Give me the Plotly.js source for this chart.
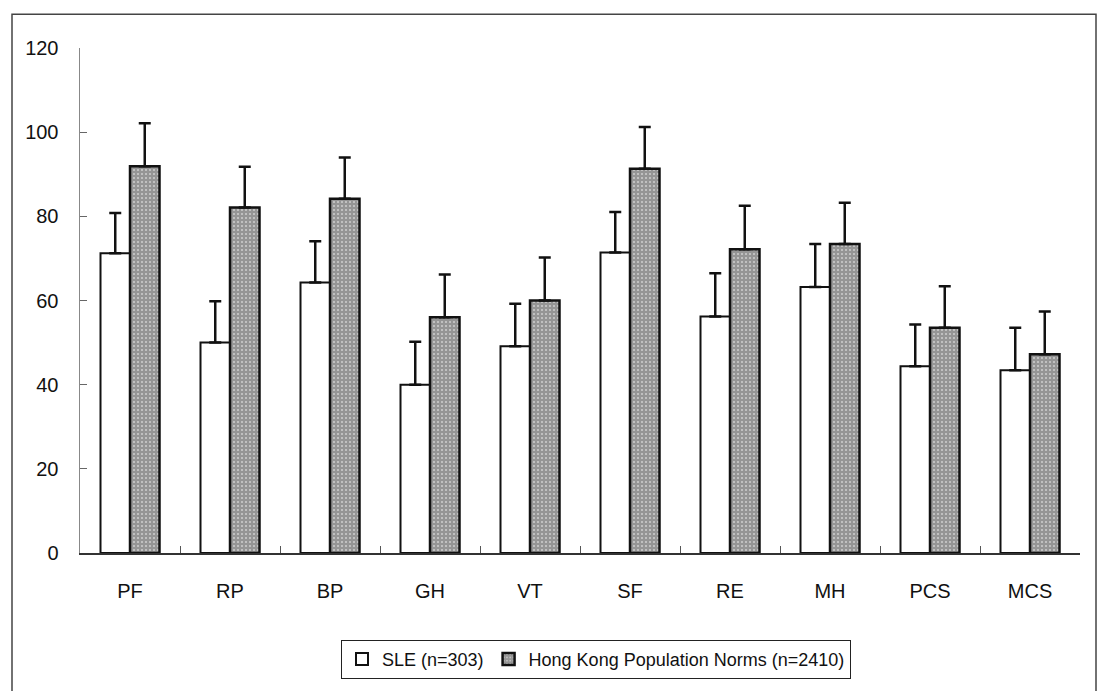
<!DOCTYPE html>
<html>
<head>
<meta charset="utf-8">
<script src="https://cdn.plot.ly/plotly-3.0.1.min.js"></script>
<style>html,body{margin:0;padding:0;background:#fff;}#chart{width:1098px;height:691px;}</style>
</head>
<body>
<div id="chart"></div>
<script>
var categories = ["PF", "RP", "BP", "GH", "VT", "SF", "RE", "MH", "PCS", "MCS"];
var sleValues = [71.2, 50.0, 64.3, 40.0, 49.1, 71.4, 56.2, 63.2, 44.4, 43.4];
var sleErrors = [9.6, 9.8, 9.8, 10.2, 10.1, 9.6, 10.3, 10.2, 9.9, 10.1];
var hkValues = [91.9, 82.1, 84.2, 56.0, 60.0, 91.3, 72.2, 73.4, 53.5, 47.2];
var hkErrors = [10.2, 9.7, 9.8, 10.2, 10.2, 9.9, 10.3, 9.8, 9.9, 10.2];
var sleName = "SLE (n=303)";
var hkName = "Hong Kong Population Norms (n=2410)";

var fontFam = "'Liberation Sans Narrow', 'Liberation Sans', Arial, sans-serif";

var traces = [
  {
    type: "bar", name: sleName, x: categories, y: sleValues,
    marker: {color: "#ffffff", line: {color: "#111111", width: 2}},
    error_y: {type: "data", symmetric: false, array: sleErrors, arrayminus: sleErrors.map(function(){return 0;}),
              color: "#111111", thickness: 2.5, width: 6}
  },
  {
    type: "bar", name: hkName, x: categories, y: hkValues,
    marker: {color: "#989898", line: {color: "#111111", width: 2.5},
             pattern: {shape: ".", fgcolor: "#cfcfcf", bgcolor: "#959595", size: 4, solidity: 0.2}},
    error_y: {type: "data", symmetric: false, array: hkErrors, arrayminus: hkErrors.map(function(){return 0;}),
              color: "#111111", thickness: 2.5, width: 6}
  }
];

var layout = {
  width: 1098, height: 691,
  margin: {l: 80, r: 18, t: 48, b: 134},
  paper_bgcolor: "#ffffff", plot_bgcolor: "#ffffff",
  font: {family: fontFam, size: 20, color: "#111111"},
  barmode: "group", bargap: 0.41, bargroupgap: 0,
  showlegend: true,
  legend: {
    orientation: "h", x: 0.516, xanchor: "center", y: -0.172, yanchor: "top",
    bordercolor: "#222222", borderwidth: 1, bgcolor: "#ffffff",
    font: {family: fontFam, size: 18, color: "#111111"},
    itemwidth: 30, traceorder: "normal"
  },
  xaxis: {
    type: "category", showline: true, linecolor: "#333333", linewidth: 1.5,
    ticks: "inside", tickson: "boundaries", ticklen: 7, tickcolor: "#555555",
    showgrid: false, zeroline: false, ticklabelstandoff: 19,
    tickfont: {family: fontFam, size: 20, color: "#111111"}
  },
  yaxis: {
    range: [0, 120], tickvals: [0, 20, 40, 60, 80, 100, 120],
    showline: true, linecolor: "#888888", linewidth: 1.5,
    ticks: "inside", ticklen: 7, tickcolor: "#666666",
    showgrid: false, zeroline: false, ticklabelstandoff: 16,
    tickfont: {family: fontFam, size: 20, color: "#111111"}
  },
  shapes: [
    {type: "rect", xref: "paper", yref: "paper", x0: -0.068, x1: 1.016, y0: -0.30, y1: 1.0668,
     line: {color: "#444444", width: 1.5}, fillcolor: "rgba(0,0,0,0)", layer: "below"}
  ]
};

Plotly.newPlot("chart", traces, layout, {displayModeBar: false, staticPlot: true});
</script>
</body>
</html>
